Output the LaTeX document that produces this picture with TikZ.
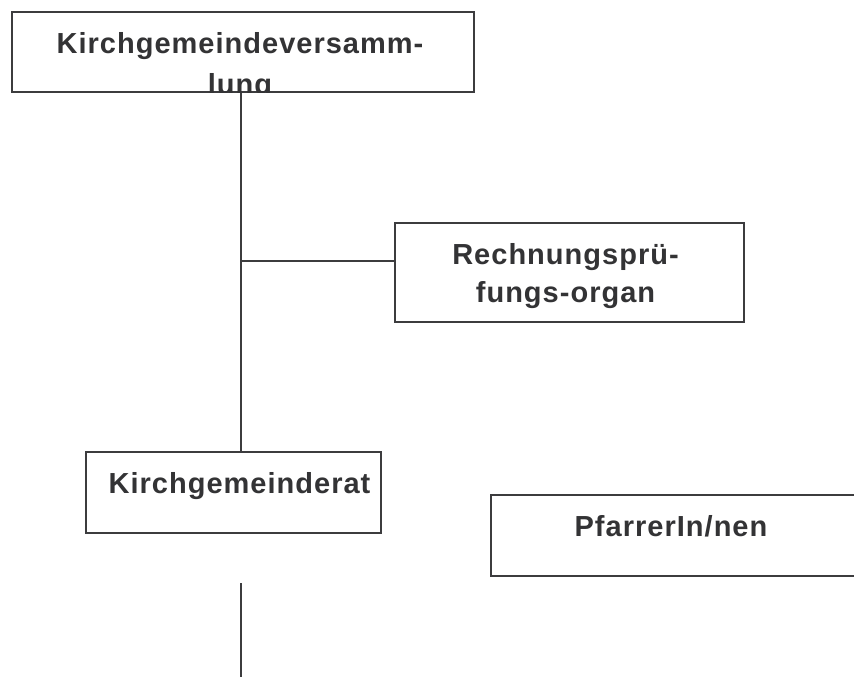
\documentclass[tikz,border=0pt]{standalone}
\usepackage{fontspec}
\newfontfamily\labfont[LetterSpace=3.5]{Liberation Sans}
\definecolor{linec}{HTML}{3C3C3E}
\definecolor{textc}{HTML}{333335}
\begin{document}
\begin{tikzpicture}[x=1pt,y=-1pt,
  box/.style={draw=linec, line width=2.6pt, fill=white, inner sep=0pt, minimum width=#1},
  lab/.style={font=\labfont\bfseries\fontsize{29}{37.5}\selectfont, text=textc, align=center, inner sep=0pt, anchor=north},
  conn/.style={draw=linec, line width=2.6pt}]
\useasboundingbox (0,0) rectangle (854,677);
\clip (0,0) rectangle (854,677);
% boxes
\node[box=462pt, minimum height=80pt] (kgv) at (243,52) {};
\node[box=349pt, minimum height=99pt] (rpo) at (569.5,272.5) {};
\node[box=295pt, minimum height=81pt] (kgr) at (233.5,492.5) {};
\node[box=380pt, minimum height=81pt] (pf) at (681,535.5) {};
% texts
\begin{scope}
\clip ([shift={(1.3pt,-1.3pt)}]kgv.north west) rectangle ([shift={(-1.3pt,1.3pt)}]kgv.south east);
\node[lab] (kgvt) at ([xshift=-3pt,yshift=-22pt]kgv.north) {Kirchgemeindeversamm-\\[3pt]lung};
\end{scope}
\node[lab] (rpot) at ([xshift=-4pt,yshift=-22pt]rpo.north) {Rechnungsprü-\\fungs-organ};
\node[lab] (kgrt) at ([xshift=6pt,yshift=-22pt]kgr.north) {Kirchgemeinderat};
\node[lab] (pft) at ([yshift=-22pt]pf.north -| 671,0) {PfarrerIn/nen};
% connectors
\coordinate (sp) at (241,261);
\coordinate (low) at (241,583);
\coordinate (end) at (241,680);
\draw[conn] (kgv.south -| sp) -- (kgr.north -| sp);
\draw[conn] (sp) -- (sp -| rpo.west);
\draw[conn] (low) -- (end);
\end{tikzpicture}
\end{document}
